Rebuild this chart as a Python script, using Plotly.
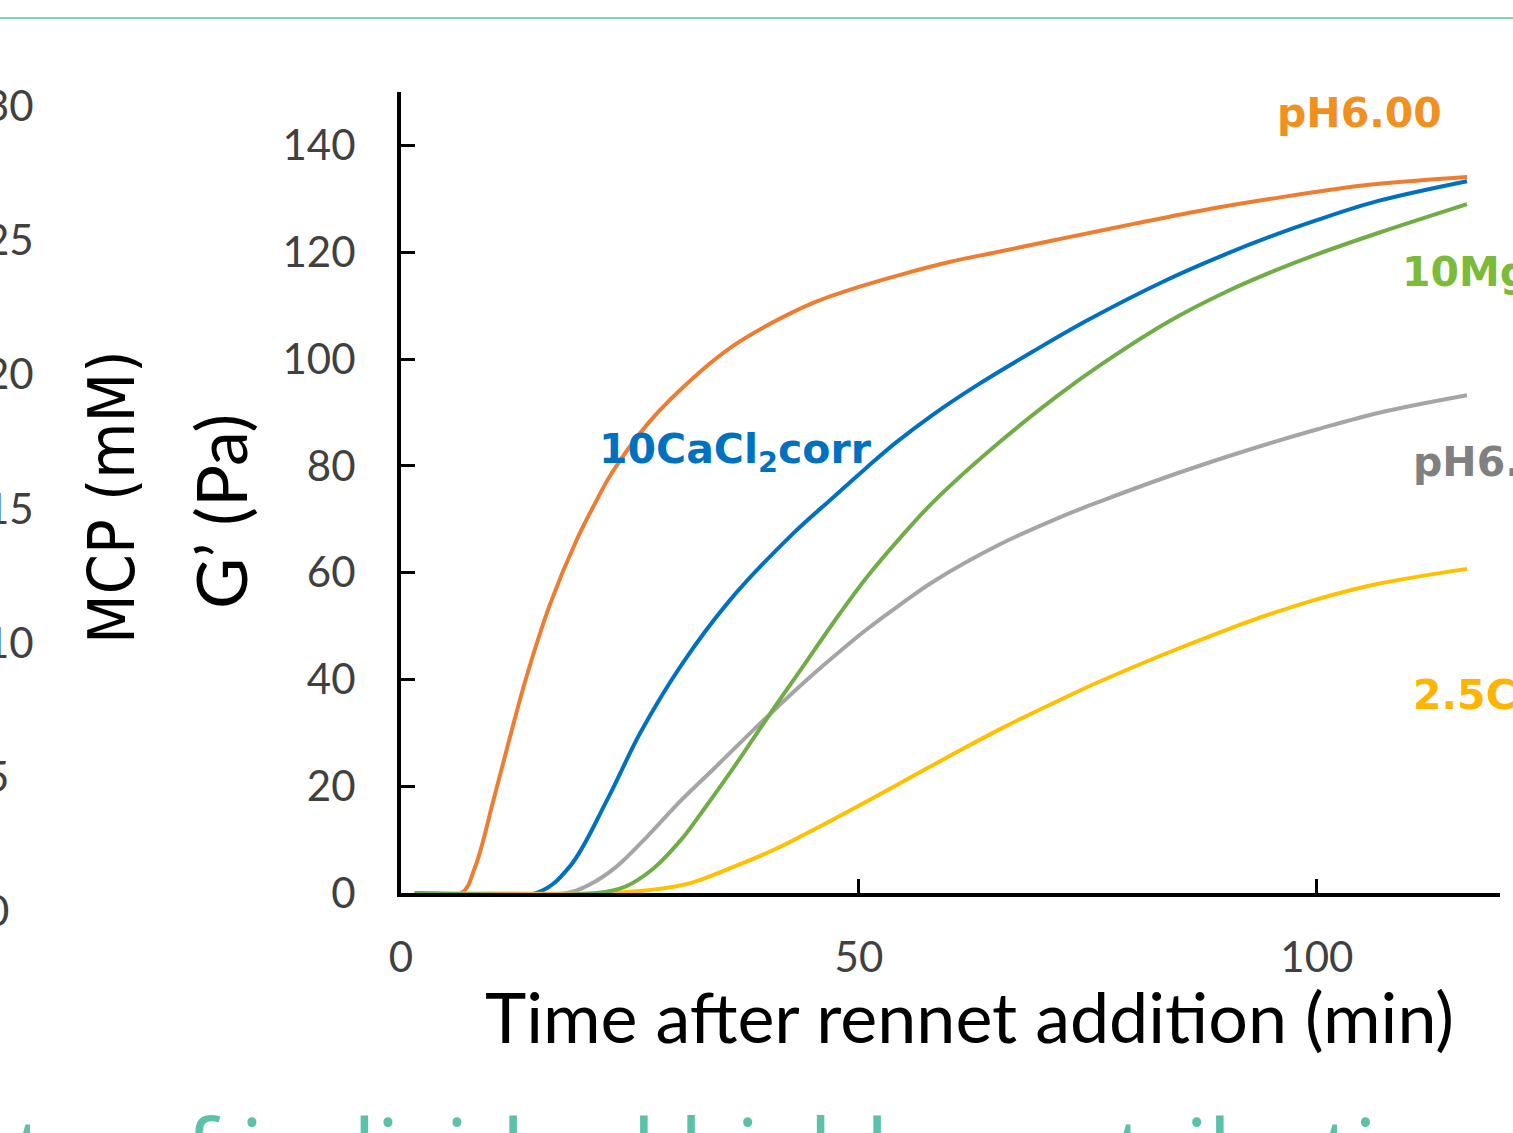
import plotly.graph_objects as go

# ---------------- data ----------------
t_ph600 = [1.5, 6.6, 8.1, 10.1, 11.9, 13.7, 16.3, 19.2, 21.2, 23, 27, 32.6, 36.3, 40, 45, 50, 55, 60, 65, 72, 80, 88, 95, 105, 116.4]
g_ph600 = [0, 0, 4.9, 17.4, 29.2, 40.5, 54.2, 66.2, 73, 78.6, 88, 97.5, 102.5, 106.3, 110.5, 113.5, 116, 118.2, 120, 122.5, 125.3, 128, 130, 132.5, 134.1]

t_cacl2corr = [1.5, 14.8, 18.4, 22.5, 26.1, 30.5, 35.9, 42.8, 47, 50.8, 54, 58.1, 63, 69, 75, 83.6, 90, 95.2, 100, 106.7, 116.4]
g_cacl2corr = [0, 0, 4.9, 17.4, 29.9, 42.4, 54.8, 67.3, 73.8, 79.6, 84.3, 89.6, 95.2, 101.4, 107.3, 114.8, 119.6, 123.1, 126, 129.6, 133.3]

t_ph_nat = [1.5, 18.1, 20.5, 23.5, 27, 30.5, 34.3, 38.1, 43.6, 46.1, 50.8, 54.5, 58.1, 65.4, 72, 76.3, 83.6, 90, 95.2, 100, 106.7, 116.4]
g_ph_nat = [0, 0, 1.5, 4.9, 10.8, 17.2, 23.5, 29.9, 38.8, 42.6, 49.3, 54.0, 58.3, 65.3, 70.4, 73.3, 77.9, 81.6, 84.4, 86.8, 89.9, 93.2]

t_cacl2_25 = [1.5, 22.5, 27, 31.5, 36.3, 40.6, 44, 47.9, 52, 56, 60.6, 66, 72, 76.3, 83.6, 90, 95.2, 100, 106.7, 116.4]
g_cacl2_25 = [0, 0, 0.5, 1.8, 4.9, 8.0, 10.9, 14.4, 18.2, 22, 26.3, 31.2, 36.2, 39.6, 44.9, 49.2, 52.4, 55.0, 57.9, 60.7]

t_mg10 = [1.5, 21.4, 24.5, 27.5, 30.5, 33, 35.8, 38.5, 41, 43.6, 47.9, 50.8, 54.5, 58.1, 65.4, 72, 76.3, 83.6, 90, 95.2, 100, 106.7, 116.4]
g_mg10 = [0, 0, 1.2, 4.5, 9.8, 15.5, 22.2, 29, 35.3, 41.7, 52.3, 59, 66.5, 73.2, 84.5, 93.5, 98.8, 106.8, 112.5, 116.4, 119.6, 123.6, 129]

x_ticks = [0, 50, 100]
y_ticks = [0, 20, 40, 60, 80, 100, 120, 140]
mcp_ticks = [30, 25, 20, 15, 10, 5, 0]

series_names = ["pH6.00", "10CaCl2corr", "pH6.60", "2.5CaCl2", "10MgCl2"]
label_texts = ["pH6.00", "10CaCl<sub>2</sub>corr", "pH6.60", "2.5CaCl<sub>2</sub>", "10MgCl<sub>2</sub>"]

# ---------------- layout helpers ----------------
W, H = 1513, 1133
L, R, T, B = 401, 13, 92, 240
PW, PH = W - L - R, H - T - B


def fx(px):
    return (px - L) / PW


def fy(py):
    return (H - B - py) / PH


FONT = "Lato, Carlito, Calibri, 'Open Sans', sans-serif"
LABEL_FONT = "'DejaVu Sans', Verdana, sans-serif"

fig = go.Figure()
series = [
    (t_ph600, g_ph600, "#ED7D31"),
    (t_cacl2corr, g_cacl2corr, "#0070C0"),
    (t_ph_nat, g_ph_nat, "#A5A5A5"),
    (t_cacl2_25, g_cacl2_25, "#FFC000"),
    (t_mg10, g_mg10, "#70AD47"),
]
for (tx, gy, col), name in zip(series, series_names):
    fig.add_trace(go.Scatter(x=tx, y=gy, mode="lines", name=name,
                             line=dict(color=col, width=4, shape="spline", smoothing=1.0),
                             showlegend=False, hoverinfo="skip"))

annotations = []
# series labels
label_specs = [
    (label_texts[0], 1275, 113, "#F0901E"),
    (label_texts[1], 597, 452, "#0070C0"),
    (label_texts[4], 1400, 275, "#7CBA3A"),
    (label_texts[2], 1411, 462, "#808080"),
    (label_texts[3], 1411, 698, "#FFB400"),
]
for txt, px, py, col in label_specs:
    annotations.append(dict(text=txt, x=fx(px), y=fy(py), xref="paper", yref="paper",
                            xanchor="left", yanchor="middle", showarrow=False,
                            font=dict(family=LABEL_FONT, size=41, color=col, weight="bold")))

# cut-off right-hand MCP axis tick labels of the neighbouring panel (left aligned)
for v in mcp_ticks:
    py = 910 - v * (910 - 105) / 30
    annotations.append(dict(text=str(v), x=fx(-17), y=fy(py), xref="paper", yref="paper",
                            xanchor="left", yanchor="middle", showarrow=False,
                            font=dict(family=FONT, size=42, color="#404040")))
annotations.append(dict(text="MCP (mM)", x=fx(112), y=fy(497), xref="paper", yref="paper",
                        xanchor="center", yanchor="middle", textangle=-90, showarrow=False,
                        font=dict(family="'Liberation Sans Narrow', 'Arial Narrow', 'DejaVu Sans Condensed', sans-serif",
                                  size=64, color="#000000")))

# axis titles
annotations.append(dict(text="G’ (Pa)", x=fx(220), y=fy(512), xref="paper", yref="paper",
                        xanchor="center", yanchor="middle", textangle=-90, showarrow=False,
                        font=dict(family=FONT, size=70, color="black")))
annotations.append(dict(text="Time after rennet addition (min)", x=fx(969), y=fy(1016),
                        xref="paper", yref="paper", xanchor="center", yanchor="middle",
                        showarrow=False, font=dict(family=FONT, size=70, color="black")))

# cut-off teal heading below the chart
annotations.append(dict(text="t", x=fx(12), y=fy(1085), xref="paper", yref="paper",
                        xanchor="left", yanchor="top", showarrow=False,
                        font=dict(family="'Open Sans', sans-serif", size=92, color="#5BC1A8")))
annotations.append(dict(text="of individual highly contribution", x=fx(128), y=fy(1085),
                        xref="paper", yref="paper", xanchor="left", yanchor="top", showarrow=False,
                        font=dict(family="'Open Sans', sans-serif", size=92, color="#5BC1A8")))

fig.update_layout(
    width=W, height=H,
    margin=dict(l=L, r=R, t=T, b=B, pad=0),
    paper_bgcolor="white", plot_bgcolor="white",
    hovermode=False,
    annotations=annotations,
    shapes=[dict(type="line", xref="paper", yref="paper", x0=fx(0), x1=fx(W), y0=fy(18), y1=fy(18),
                 line=dict(color="#7ED3C6", width=2))],
    xaxis=dict(range=[0, 120], tickvals=x_ticks, ticks="inside", ticklen=14, tickwidth=3,
               tickcolor="black", showline=True, linecolor="black", linewidth=4,
               showgrid=False, zeroline=False, layer="below traces",
               tickfont=dict(family=FONT, size=42, color="#404040"), ticklabelstandoff=25),
    yaxis=dict(range=[0, 150], tickvals=y_ticks, ticks="inside", ticklen=14, tickwidth=3,
               tickcolor="black", showline=True, linecolor="black", linewidth=4,
               showgrid=False, zeroline=False, layer="below traces",
               tickfont=dict(family=FONT, size=42, color="#404040"), ticklabelstandoff=33),
)

fig.write_html("out.html", config={"displayModeBar": False},
               post_script="document.body.style.margin='0';document.body.style.overflow='hidden';")
